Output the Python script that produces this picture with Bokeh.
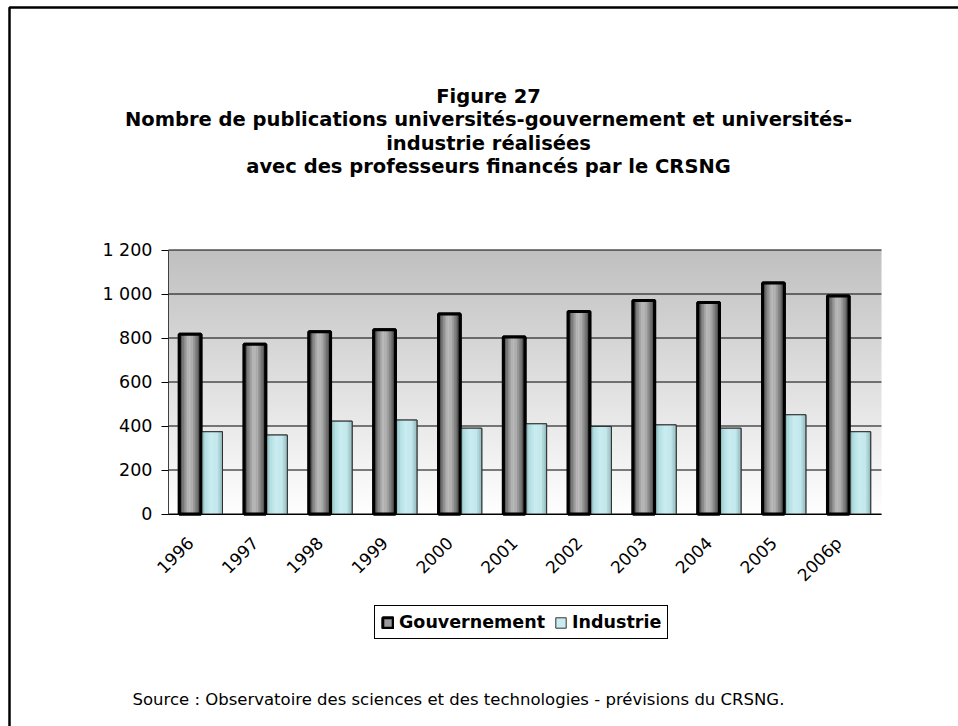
import numpy as np
from math import pi
from bokeh.plotting import figure
from bokeh.models import (Range1d, FixedTicker, Label, Legend, LegendItem,
                          BoxAnnotation, ColumnDataSource, LinearAxis)
from bokeh.transform import dodge
from bokeh.embed import file_html
from bokeh.resources import INLINE

# ---------------- data ----------------
years = ["1996", "1997", "1998", "1999", "2000", "2001",
         "2002", "2003", "2004", "2005", "2006p"]
gouvernement = [817, 772, 828, 837, 909, 805, 920, 970, 961, 1050, 991]
industrie = [374, 359, 422, 427, 390, 410, 398, 405, 390, 451, 374]
series_names = ["Gouvernement", "Industrie"]
y_ticks = [0, 200, 400, 600, 800, 1000, 1200]
y_tick_labels = ["0", "200", "400", "600", "800", "1 000", "1 200"]
title_lines = [
    "Figure 27",
    "Nombre de publications universités-gouvernement et universités-",
    "industrie réalisées",
    "avec des professeurs financés par le CRSNG",
]
source_text = "Source : Observatoire des sciences et des technologies - prévisions du CRSNG."

# ---------------- layout constants (pixels on the page) ----------------
W, H = 958, 726
PL, PR, PT, PB = 168.0, 881.0, 249.5, 513.5   # plot-area edges
FONT = "DejaVu Sans"
YMAX = 1200
ncat = len(years)

# the figure's frame covers the whole page; ranges are chosen so that the
# value / category scales land on the plot area
cw = (PR - PL) / ncat
ppu = (PB - PT) / YMAX
x_range = Range1d(-PL / cw, ncat + (W - PR) / cw)
y_range = Range1d(-(H - PB) / ppu, YMAX + PT / ppu)

p = figure(width=W, height=H, x_range=x_range, y_range=y_range,
           x_axis_type=None, y_axis_type=None,
           output_backend="svg", toolbar_location=None,
           min_border=0, min_border_left=0, min_border_right=0,
           min_border_top=0, min_border_bottom=0,
           border_fill_color="white", background_fill_color="white",
           outline_line_color=None)

src = ColumnDataSource(dict(pos=[i + 0.5 for i in range(ncat)],
                            gov=gouvernement, ind=industrie))

# plot-area gradient background (gray at top -> white at bottom)
n = 256
t = np.linspace(0, 1, n)
g = (255 - (255 - 192) * t).astype(np.uint8)
img = np.zeros((n, 1), dtype=np.uint32)
view = img.view(dtype=np.uint8).reshape((n, 1, 4))
view[:, 0, 0] = g
view[:, 0, 1] = g
view[:, 0, 2] = g
view[:, 0, 3] = 255
p.image_rgba(image=[img], x=0, y=0, dw=ncat, dh=YMAX, level="image")

# horizontal grid lines across the plot area
p.segment(x0=[0] * len(y_ticks), x1=[ncat] * len(y_ticks), y0=y_ticks, y1=y_ticks,
          line_color="black", line_width=1, level="underlay")

# ---------------- bars ----------------
bw = 1 / 3
offs = [-1 / 6, 1 / 6]


def mix(c1, c2, a):
    return "#%02x%02x%02x" % tuple(int(round(c1[i] + (c2[i] - c1[i]) * a)) for i in range(3))


def profile(stops, tt):
    for (t0, c0), (t1, c1) in zip(stops[:-1], stops[1:]):
        if t0 <= tt <= t1:
            return mix(c0, c1, (tt - t0) / (t1 - t0))
    return mix(stops[-1][1], stops[-1][1], 0)


gov_stops = [(0.0, (40, 40, 40)), (0.18, (120, 120, 120)), (0.42, (190, 190, 190)),
             (0.6, (175, 175, 175)), (0.85, (105, 105, 105)), (1.0, (40, 40, 40))]
ind_stops = [(0.0, (120, 160, 162)), (0.2, (175, 220, 224)), (0.45, (200, 236, 240)),
             (0.75, (195, 232, 236)), (1.0, (140, 180, 184))]

gov_style = dict(fill_color="#9a9a9a", line_color="black", line_width=3)
ind_style = dict(fill_color="#c8ecf0", line_color="#303030", line_width=1)

gov_base = p.vbar(x=dodge("pos", offs[0]), top="gov", width=bw, source=src, **gov_style)
ind_base = p.vbar(x=dodge("pos", offs[1]), top="ind", width=bw, source=src, **ind_style)

N = 14
for col, off, stops in (("gov", offs[0], gov_stops), ("ind", offs[1], ind_stops)):
    sw = bw / N
    for i in range(N):
        tt = (i + 0.5) / N
        o = off - bw / 2 + (i + 0.5) * sw
        p.vbar(x=dodge("pos", o), top=col, width=sw * 1.05, source=src,
               fill_color=profile(stops, tt), line_color=None)

p.vbar(x=dodge("pos", offs[1]), top="ind", width=bw, source=src, fill_color=None,
       line_color="#303030", line_width=1)
p.vbar(x=dodge("pos", offs[0]), top="gov", width=bw, source=src, fill_color=None,
       line_color="black", line_width=3)

# ---------------- axes (fixed inside the full-page frame) ----------------
yax = LinearAxis(fixed_location=0, bounds=(0, YMAX), ticker=FixedTicker(ticks=y_ticks),
                 major_label_overrides={v: s for v, s in zip(y_ticks, y_tick_labels)},
                 major_label_text_font=FONT, major_label_text_font_size="17.5px",
                 major_label_text_color="black", axis_line_color="#404040",
                 major_tick_line_color="black", major_tick_out=7, major_tick_in=0,
                 minor_tick_line_color=None, major_label_standoff=9)
p.add_layout(yax, "left")

xline = LinearAxis(fixed_location=0, bounds=(0, ncat), ticker=FixedTicker(ticks=[]),
                   axis_line_color="black", major_tick_line_color=None,
                   minor_tick_line_color=None, major_label_text_color=None)
p.add_layout(xline, "below")

shift = 0.16
p.extra_x_ranges = {"lab": Range1d(x_range.start + shift, x_range.end + shift)}
xcats = [i + 0.5 for i in range(ncat)]
xax = LinearAxis(x_range_name="lab", fixed_location=0, ticker=FixedTicker(ticks=xcats),
                 major_label_overrides={v: s for v, s in zip(xcats, years)},
                 major_label_orientation=pi / 4, major_label_text_font=FONT,
                 major_label_text_font_size="17px", major_label_text_color="black",
                 axis_line_color=None, major_tick_line_color=None,
                 minor_tick_line_color=None, major_label_standoff=20)
p.add_layout(xax, "below")

# ---------------- legend ----------------
legend = Legend(items=[LegendItem(label=series_names[0], renderers=[gov_base]),
                       LegendItem(label=series_names[1], renderers=[ind_base])],
                orientation="horizontal", location=(374, H - 639),
                label_text_font=FONT, label_text_font_style="bold",
                label_text_font_size="17.5px", label_text_color="black",
                glyph_width=13, glyph_height=13, label_standoff=5, spacing=9,
                padding=6, margin=0, border_line_color="black", border_line_width=1,
                border_line_alpha=1,
                background_fill_color="white", background_fill_alpha=1)
p.add_layout(legend, "center")

# ---------------- titles and source ----------------
base0, step = 95.5, 23.5
for i, line in enumerate(title_lines):
    p.add_layout(Label(x=488, y=H - (base0 + i * step), x_units="screen", y_units="screen",
                       text=line, text_align="center", text_baseline="alphabetic",
                       text_font=FONT, text_font_style="bold", text_font_size="19.5px",
                       text_color="black"))

p.add_layout(Label(x=132, y=H - 699, x_units="screen", y_units="screen",
                   text=source_text, text_align="left", text_baseline="alphabetic",
                   text_font=FONT, text_font_size="16.5px", text_color="black"))

# ---------------- outer frame (top and left edges visible) ----------------
p.add_layout(BoxAnnotation(left=9, right=W + 20, top=H - 7, bottom=-20,
                           left_units="screen", right_units="screen",
                           top_units="screen", bottom_units="screen",
                           fill_color=None, fill_alpha=0, line_color="black",
                           line_alpha=1, line_width=2.5))

open("out.html", "w").write(file_html(p, INLINE))
